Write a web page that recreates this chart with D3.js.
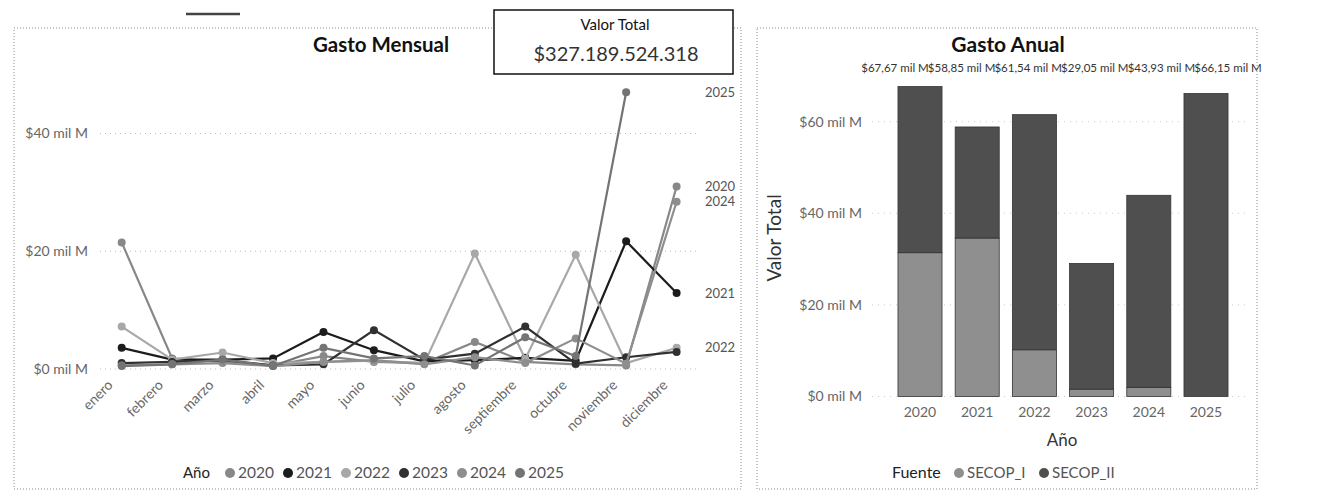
<!DOCTYPE html>
<html>
<head>
<meta charset="utf-8">
<script src="https://cdn.jsdelivr.net/npm/d3@7"></script>
<style>
  body { margin: 0; background: #fff; }
  svg { font-family: "Segoe UI", Lato, sans-serif; }
</style>
</head>
<body>
<svg width="1336" height="496"></svg>
<script>
// ---- data ----
var months = ["enero", "febrero", "marzo", "abril", "mayo", "junio", "julio",
  "agosto", "septiembre", "octubre", "noviembre", "diciembre"];
var lineYears = ["2020", "2021", "2022", "2023", "2024", "2025"];
// gasto mensual, mil millones
var gasto2020 = [21.5, 1.8, 1.2, 0.6, 2.2, 1.2, 1.0, 4.6, 1.2, 0.8, 0.6, 31.0];
var gasto2021 = [3.6, 1.6, 1.6, 1.8, 6.3, 3.2, 1.3, 1.5, 1.9, 1.4, 21.7, 12.9];
var gasto2022 = [7.2, 1.6, 2.8, 1.0, 1.2, 1.4, 1.0, 19.6, 1.7, 19.4, 1.0, 3.6];
var gasto2023 = [1.0, 1.2, 1.5, 0.6, 0.8, 6.6, 1.6, 2.6, 7.2, 0.9, 2.0, 2.9];
var gasto2024 = [0.6, 0.8, 1.0, 0.5, 1.2, 1.5, 0.8, 2.0, 1.0, 5.2, 0.9, 28.4];
var gasto2025 = [0.5, 0.8, 1.6, 0.5, 3.6, 1.8, 2.2, 0.6, 5.4, 2.2, 47.0];
var lineTicks = [0, 20, 40];

var barYears = ["2020", "2021", "2022", "2023", "2024", "2025"];
var secopI = [31.4, 34.6, 10.2, 1.6, 2.0, 0];
var secopII = [36.27, 24.25, 51.34, 27.45, 41.93, 66.15];
var barTicks = [0, 20, 40, 60];
var fuentes = ["SECOP_I", "SECOP_II"];

var valorTotal = 327189524318;

// grey tones (the reference is a b/w copy)
var lineColor = { "2020": "#888", "2021": "#1c1c1c", "2022": "#a8a8a8",
  "2023": "#303030", "2024": "#8e8e8e", "2025": "#747474" };
var fuenteColor = { "SECOP_I": "#8f8f8f", "SECOP_II": "#4f4f4f" };

var svg = d3.select("svg");

// ---- panels ----
function panel(x0, y0, x1, y1) {
  svg.append("rect")
    .attr("x", x0).attr("y", y0)
    .attr("width", x1 - x0).attr("height", y1 - y0)
    .attr("fill", "none")
    .attr("stroke", "#8a8a8a")
    .attr("stroke-dasharray", "1,2");
}
panel(14, 28, 741, 489);
panel(757, 28, 1257, 489);

// small mark top-left of the copy
svg.append("line")
  .attr("x1", 186).attr("x2", 240).attr("y1", 14).attr("y2", 14)
  .attr("stroke", "#444").attr("stroke-width", 2.5);

//////////// GASTO MENSUAL ////////////
var x = d3.scalePoint().domain(months).range([121.7, 676.6]);
var y = d3.scaleLinear().domain([0, 40]).range([369, 133.5]);

svg.append("text")
  .attr("x", 381).attr("y", 52)
  .attr("text-anchor", "middle")
  .attr("font-size", 20.5).attr("font-weight", "bold").attr("fill", "#111")
  .text("Gasto Mensual");

// grid + y labels
var gl = svg.append("g");
gl.selectAll("line").data(lineTicks).enter().append("line")
  .attr("x1", 100).attr("x2", 700)
  .attr("y1", d => y(d)).attr("y2", d => y(d))
  .attr("stroke", "#bbb").attr("stroke-dasharray", "1,4");
gl.selectAll("text").data(lineTicks).enter().append("text")
  .attr("x", 88).attr("y", d => y(d)).attr("dy", "0.35em")
  .attr("text-anchor", "end")
  .attr("font-size", 14).attr("fill", "#666")
  .text(d => "$" + d + " mil M");

// month labels
svg.append("g").selectAll("text").data(months).enter().append("text")
  .attr("transform", d => "translate(" + (x(d) - 8) + ",386) rotate(-45)")
  .attr("text-anchor", "end")
  .attr("font-size", 14).attr("fill", "#666")
  .text(d => d);

var series = lineYears.map(function (yr) {
  var vals = { "2020": gasto2020, "2021": gasto2021, "2022": gasto2022,
    "2023": gasto2023, "2024": gasto2024, "2025": gasto2025 }[yr];
  return { year: yr, values: vals.map((v, i) => ({ month: months[i], value: v })) };
});

var line = d3.line().x(d => x(d.month)).y(d => y(d.value));

var sg = svg.append("g").selectAll("g").data(series).enter().append("g");
sg.append("path")
  .attr("d", d => line(d.values))
  .attr("fill", "none")
  .attr("stroke", d => lineColor[d.year])
  .attr("stroke-width", 2.2);
sg.selectAll("circle").data(d => d.values.map(v => ({ year: d.year, month: v.month, value: v.value })))
  .enter().append("circle")
  .attr("cx", d => x(d.month)).attr("cy", d => y(d.value))
  .attr("r", 4)
  .attr("fill", d => lineColor[d.year]);

// end labels, hidden when they collide
var shown = [];
series.forEach(function (s) {
  var last = s.values[s.values.length - 1];
  var ly = y(last.value);
  if (shown.some(v => Math.abs(v - ly) < 12)) return;
  shown.push(ly);
  svg.append("text")
    .attr("x", 705).attr("y", ly).attr("dy", "0.35em")
    .attr("font-size", 13).attr("fill", "#555")
    .text(s.year);
});

// legend
var lg = svg.append("g").attr("transform", "translate(183,478)");
lg.append("text").attr("font-size", 15).attr("fill", "#222").text("Año");
var li = lg.selectAll("g").data(lineYears).enter().append("g")
  .attr("transform", (d, i) => "translate(" + (47 + i * 58) + ",0)");
li.append("circle").attr("cy", -5).attr("r", 5).attr("fill", d => lineColor[d]);
li.append("text").attr("x", 8).attr("font-size", 15.5).attr("fill", "#555").text(d => d);

//////////// VALOR TOTAL (card) ////////////
svg.append("rect")
  .attr("x", 494).attr("y", 10).attr("width", 239).attr("height", 64)
  .attr("fill", "#fff").attr("stroke", "#111").attr("stroke-width", 1.5);
svg.append("text")
  .attr("x", 615).attr("y", 30).attr("text-anchor", "middle")
  .attr("font-size", 15).attr("fill", "#111").text("Valor Total");
svg.append("text")
  .attr("x", 616).attr("y", 61).attr("text-anchor", "middle")
  .attr("font-size", 20).attr("fill", "#333")
  .text("$" + d3.format(",")(valorTotal).replace(/,/g, "."));

//////////// GASTO ANUAL ////////////
var xb = d3.scaleBand().domain(barYears).range([891.4, 1234.6])
  .paddingInner(0.23).paddingOuter(0.115);
var yb = d3.scaleLinear().domain([0, 60]).range([396.5, 121.7]);

svg.append("text")
  .attr("x", 1008).attr("y", 52).attr("text-anchor", "middle")
  .attr("font-size", 21).attr("font-weight", "bold").attr("fill", "#111")
  .text("Gasto Anual");

var bg = svg.append("g");
bg.selectAll("line").data(barTicks).enter().append("line")
  .attr("x1", 872).attr("x2", 1245)
  .attr("y1", d => yb(d)).attr("y2", d => yb(d))
  .attr("stroke", "#ccc").attr("stroke-dasharray", "1,5");
bg.selectAll("text").data(barTicks).enter().append("text")
  .attr("x", 862).attr("y", d => yb(d)).attr("dy", "0.35em")
  .attr("text-anchor", "end")
  .attr("font-size", 14).attr("fill", "#666")
  .text(d => "$" + d + " mil M");

var rows = barYears.map((yr, i) => ({ year: yr, SECOP_I: secopI[i], SECOP_II: secopII[i] }));
var stacked = d3.stack().keys(fuentes)(rows);

svg.append("g").selectAll("g").data(stacked).enter().append("g")
  .attr("fill", d => fuenteColor[d.key])
  .selectAll("rect").data(d => d).enter().append("rect")
  .attr("x", d => xb(d.data.year))
  .attr("width", xb.bandwidth())
  .attr("y", d => yb(d[1]))
  .attr("height", d => yb(d[0]) - yb(d[1]))
  .attr("stroke", "#333").attr("stroke-width", 0.8);

// total labels (they crowd together in one row above the bars)
var xl = d3.scalePoint().domain(barYears).range([895, 1228]);
svg.append("g").selectAll("text").data(rows).enter().append("text")
  .attr("x", d => xl(d.year)).attr("y", 72)
  .attr("text-anchor", "middle")
  .attr("font-size", 11.5).attr("fill", "#333")
  .text(d => "$" + d3.format(".2f")(d.SECOP_I + d.SECOP_II).replace(".", ",") + " mil M");

// x axis labels
svg.append("g").selectAll("text").data(barYears).enter().append("text")
  .attr("x", d => xb(d) + xb.bandwidth() / 2).attr("y", 417)
  .attr("text-anchor", "middle")
  .attr("font-size", 14).attr("fill", "#666")
  .text(d => d);

svg.append("text")
  .attr("x", 1062).attr("y", 446).attr("text-anchor", "middle")
  .attr("font-size", 17).attr("fill", "#333").text("Año");

svg.append("text")
  .attr("transform", "translate(781,238) rotate(-90)")
  .attr("text-anchor", "middle")
  .attr("font-size", 19).attr("fill", "#333").text("Valor Total");

// legend
var fl = svg.append("g").attr("transform", "translate(892,478)");
fl.append("text").attr("font-size", 16).attr("fill", "#222").text("Fuente");
var fi = fl.selectAll("g").data(fuentes).enter().append("g")
  .attr("transform", (d, i) => "translate(" + (67 + i * 85) + ",0)");
fi.append("circle").attr("cy", -5).attr("r", 5).attr("fill", d => fuenteColor[d]);
fi.append("text").attr("x", 8).attr("font-size", 15).attr("fill", "#555").text(d => d);
</script>
</body>
</html>
